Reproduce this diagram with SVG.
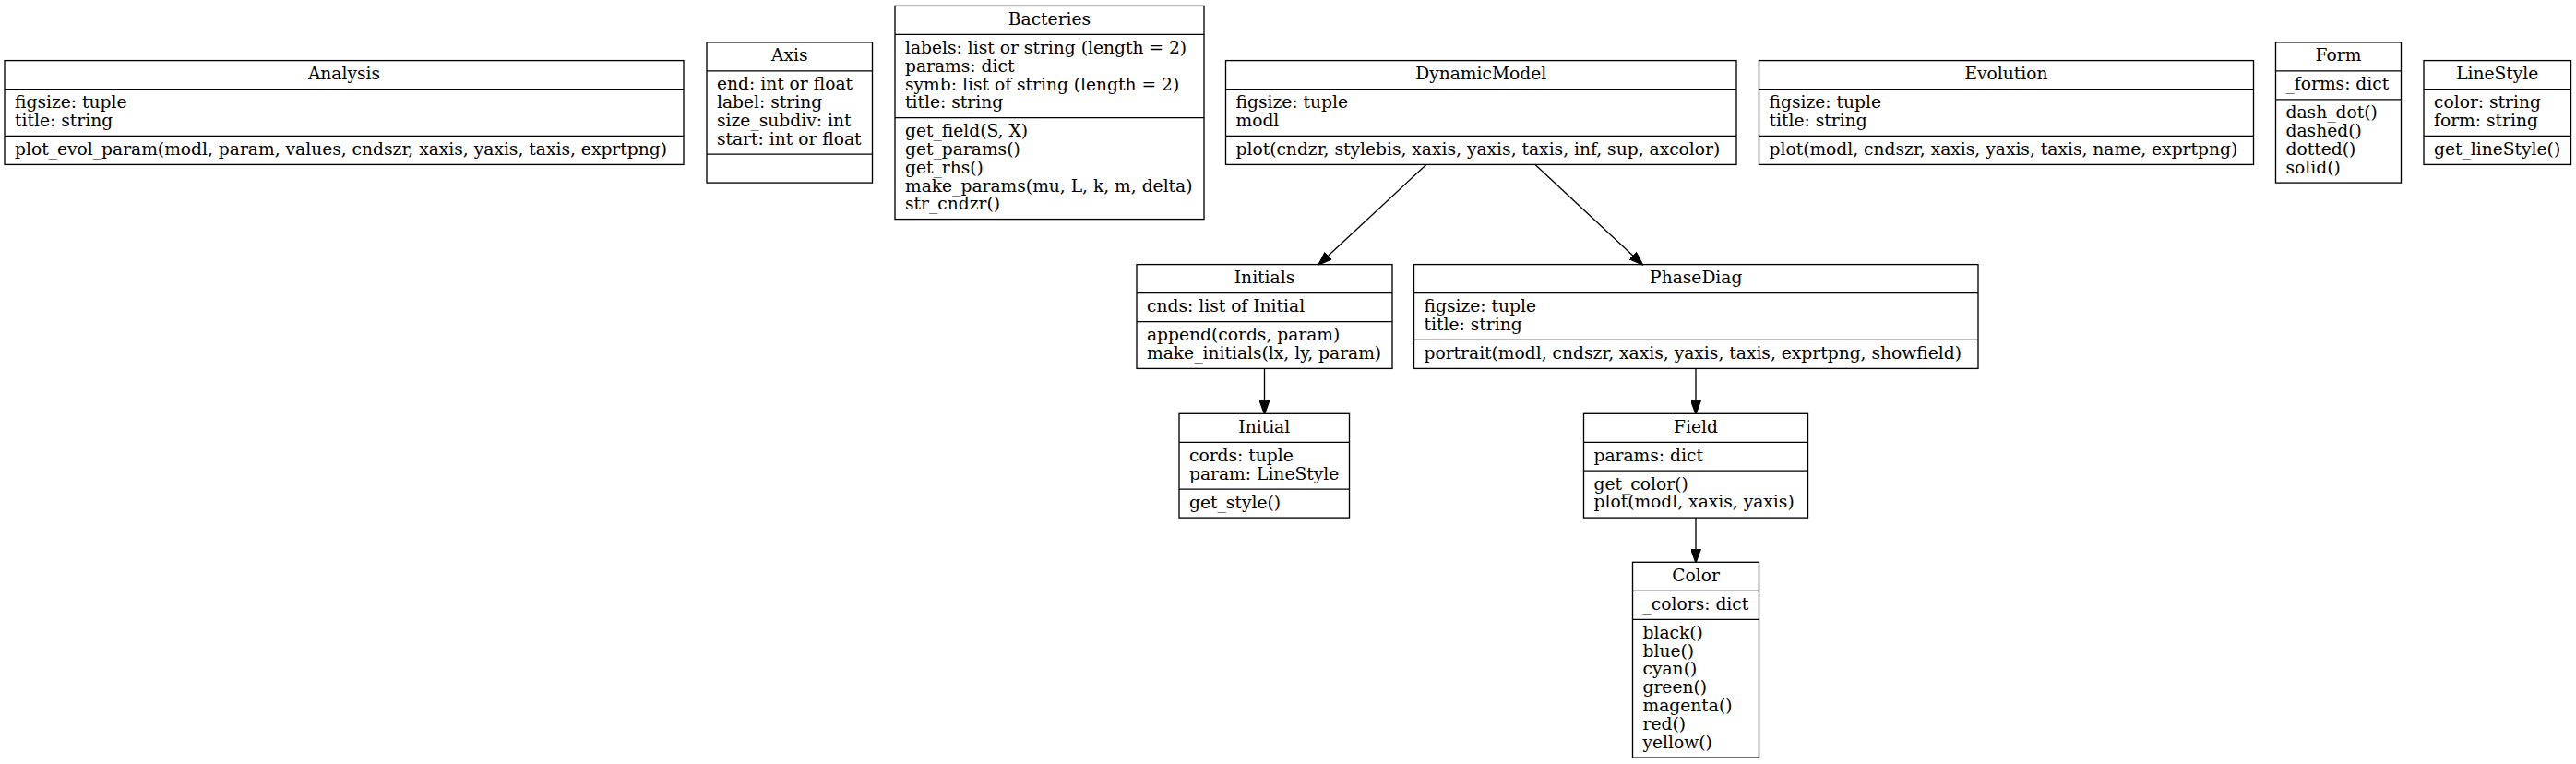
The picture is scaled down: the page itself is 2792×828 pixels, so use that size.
<svg xmlns="http://www.w3.org/2000/svg" width="2792" height="828" viewBox="0 0 2792 828">
<style>
.box{fill:#fff;stroke:#000;stroke-width:1.33}
.div{stroke:#000;stroke-width:1.33}
text{font-family:"DejaVu Serif","Liberation Serif",serif;font-size:18.67px;fill:#000}
.c{text-anchor:middle}
.edge{fill:none;stroke:#000;stroke-width:1.33}
</style>
<defs>
<marker id="arr" markerUnits="userSpaceOnUse" markerWidth="15" markerHeight="11" viewBox="0 0 14 10" refX="0" refY="5" orient="auto">
<path d="M0,0 L14,5 L0,10 z" fill="#000" stroke="#000" stroke-width="1"/>
</marker>
</defs>
<rect width="2792" height="828" fill="#fff"/>

<g id="Analysis">
<rect class="box" x="5" y="65.6" width="736" height="112.8"/>
<line class="div" x1="5" y1="96.6" x2="741" y2="96.6"/>
<line class="div" x1="5" y1="147.4" x2="741" y2="147.4"/>
<text class="c" x="373" y="86.1">Analysis</text>
<text x="16" y="117.1">figsize: tuple</text>
<text x="16" y="136.9">title: string</text>
<text x="16" y="167.9">plot_evol_param(modl, param, values, cndszr, xaxis, yaxis, taxis, exprtpng)</text>
</g>

<g id="Axis">
<rect class="box" x="766" y="45.9" width="179.5" height="152.2"/>
<line class="div" x1="766" y1="76.9" x2="945.5" y2="76.9"/>
<line class="div" x1="766" y1="167.1" x2="945.5" y2="167.1"/>
<text class="c" x="855.75" y="66.4">Axis</text>
<text x="777" y="97.4">end: int or float</text>
<text x="777" y="117.2">label: string</text>
<text x="777" y="137">size_subdiv: int</text>
<text x="777" y="156.8">start: int or float</text>
</g>

<g id="Bacteries">
<rect class="box" x="970" y="6.4" width="335" height="231.2"/>
<line class="div" x1="970" y1="37.4" x2="1305" y2="37.4"/>
<line class="div" x1="970" y1="127.6" x2="1305" y2="127.6"/>
<text class="c" x="1137.5" y="26.9">Bacteries</text>
<text x="981" y="57.9">labels: list or string (length = 2)</text>
<text x="981" y="77.7">params: dict</text>
<text x="981" y="97.5">symb: list of string (length = 2)</text>
<text x="981" y="117.3">title: string</text>
<text x="981" y="148.1">get_field(S, X)</text>
<text x="981" y="167.9">get_params()</text>
<text x="981" y="187.7">get_rhs()</text>
<text x="981" y="207.5">make_params(mu, L, k, m, delta)</text>
<text x="981" y="227.3">str_cndzr()</text>
</g>

<g id="DynamicModel">
<rect class="box" x="1328.5" y="65.6" width="553.5" height="112.8"/>
<line class="div" x1="1328.5" y1="96.6" x2="1882" y2="96.6"/>
<line class="div" x1="1328.5" y1="147.4" x2="1882" y2="147.4"/>
<text class="c" x="1605.25" y="86.1">DynamicModel</text>
<text x="1339.5" y="117.1">figsize: tuple</text>
<text x="1339.5" y="136.9">modl</text>
<text x="1339.5" y="167.9">plot(cndzr, stylebis, xaxis, yaxis, taxis, inf, sup, axcolor)</text>
</g>

<g id="Evolution">
<rect class="box" x="1906.5" y="65.6" width="536" height="112.8"/>
<line class="div" x1="1906.5" y1="96.6" x2="2442.5" y2="96.6"/>
<line class="div" x1="1906.5" y1="147.4" x2="2442.5" y2="147.4"/>
<text class="c" x="2174.5" y="86.1">Evolution</text>
<text x="1917.5" y="117.1">figsize: tuple</text>
<text x="1917.5" y="136.9">title: string</text>
<text x="1917.5" y="167.9">plot(modl, cndszr, xaxis, yaxis, taxis, name, exprtpng)</text>
</g>

<g id="Form">
<rect class="box" x="2466.5" y="45.9" width="136" height="152.2"/>
<line class="div" x1="2466.5" y1="76.9" x2="2602.5" y2="76.9"/>
<line class="div" x1="2466.5" y1="107.9" x2="2602.5" y2="107.9"/>
<text class="c" x="2534.5" y="66.4">Form</text>
<text x="2477.5" y="97.4">_forms: dict</text>
<text x="2477.5" y="128.4">dash_dot()</text>
<text x="2477.5" y="148.2">dashed()</text>
<text x="2477.5" y="168">dotted()</text>
<text x="2477.5" y="187.8">solid()</text>
</g>

<g id="LineStyle">
<rect class="box" x="2627" y="65.6" width="159.5" height="112.8"/>
<line class="div" x1="2627" y1="96.6" x2="2786.5" y2="96.6"/>
<line class="div" x1="2627" y1="147.4" x2="2786.5" y2="147.4"/>
<text class="c" x="2706.75" y="86.1">LineStyle</text>
<text x="2638" y="117.1">color: string</text>
<text x="2638" y="136.9">form: string</text>
<text x="2638" y="167.9">get_lineStyle()</text>
</g>

<g id="Initials">
<rect class="box" x="1232" y="286.6" width="277" height="112.8"/>
<line class="div" x1="1232" y1="317.6" x2="1509" y2="317.6"/>
<line class="div" x1="1232" y1="348.6" x2="1509" y2="348.6"/>
<text class="c" x="1370.5" y="307.1">Initials</text>
<text x="1243" y="338.1">cnds: list of Initial</text>
<text x="1243" y="369.1">append(cords, param)</text>
<text x="1243" y="388.9">make_initials(lx, ly, param)</text>
</g>

<g id="PhaseDiag">
<rect class="box" x="1532.5" y="286.6" width="611.5" height="112.8"/>
<line class="div" x1="1532.5" y1="317.6" x2="2144" y2="317.6"/>
<line class="div" x1="1532.5" y1="368.4" x2="2144" y2="368.4"/>
<text class="c" x="1838.25" y="307.1">PhaseDiag</text>
<text x="1543.5" y="338.1">figsize: tuple</text>
<text x="1543.5" y="357.9">title: string</text>
<text x="1543.5" y="388.9">portrait(modl, cndszr, xaxis, yaxis, taxis, exprtpng, showfield)</text>
</g>

<g id="Initial">
<rect class="box" x="1278" y="448.3" width="184.5" height="112.8"/>
<line class="div" x1="1278" y1="479.3" x2="1462.5" y2="479.3"/>
<line class="div" x1="1278" y1="530.1" x2="1462.5" y2="530.1"/>
<text class="c" x="1370.25" y="468.8">Initial</text>
<text x="1289" y="499.8">cords: tuple</text>
<text x="1289" y="519.6">param: LineStyle</text>
<text x="1289" y="550.6">get_style()</text>
</g>

<g id="Field">
<rect class="box" x="1716.5" y="448.3" width="243" height="112.8"/>
<line class="div" x1="1716.5" y1="479.3" x2="1959.5" y2="479.3"/>
<line class="div" x1="1716.5" y1="510.1" x2="1959.5" y2="510.1"/>
<text class="c" x="1838" y="468.8">Field</text>
<text x="1727.5" y="499.8">params: dict</text>
<text x="1727.5" y="530.6">get_color()</text>
<text x="1727.5" y="550.4">plot(modl, xaxis, yaxis)</text>
</g>

<g id="Color">
<rect class="box" x="1769.5" y="609.3" width="137" height="211.8"/>
<line class="div" x1="1769.5" y1="640.3" x2="1906.5" y2="640.3"/>
<line class="div" x1="1769.5" y1="671.3" x2="1906.5" y2="671.3"/>
<text class="c" x="1838" y="629.8">Color</text>
<text x="1780.5" y="660.8">_colors: dict</text>
<text x="1780.5" y="691.8">black()</text>
<text x="1780.5" y="711.6">blue()</text>
<text x="1780.5" y="731.4">cyan()</text>
<text x="1780.5" y="751.2">green()</text>
<text x="1780.5" y="771">magenta()</text>
<text x="1780.5" y="790.8">red()</text>
<text x="1780.5" y="810.6">yellow()</text>
</g>

<g id="connectors">
<path class="edge" d="M1545.8,178.4 L1439.75,277.07" marker-end="url(#arr)"/>
<path class="edge" d="M1664,178.4 L1769.76,277.05" marker-end="url(#arr)"/>
<path class="edge" d="M1370.5,399.4 L1370.5,434.3" marker-end="url(#arr)"/>
<path class="edge" d="M1838,399.4 L1838,434.3" marker-end="url(#arr)"/>
<path class="edge" d="M1838,561.1 L1838,595.3" marker-end="url(#arr)"/>
</g>
</svg>
